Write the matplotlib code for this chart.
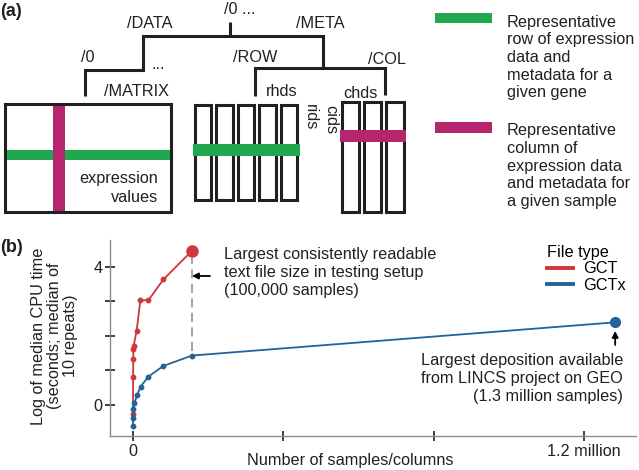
import matplotlib

matplotlib.use("Agg")
from matplotlib import pyplot as plt
from matplotlib.lines import Line2D
from matplotlib.patches import Rectangle

plt.rcParams["font.family"] = ["Liberation Sans", "DejaVu Sans"]
plt.rcParams["font.size"] = 11.7

TEXT = "#231f20"
GREEN = "#21a84f"
MAGENTA = "#b5266e"
RED = "#d0363b"
BLUE = "#22639b"
AXIS_GRAY = "#8a8a8a"

# panel (b) data
samples_gct = [0, 300, 800, 1000, 1500, 9800, 19500, 41000, 81000, 157000]
log_time_gct = [-0.27, 0.80, 1.32, 1.61, 1.70, 2.15, 3.03, 3.03, 3.63, 4.46]
samples_gctx = [0, 300, 1300, 3700, 11000, 20000, 41000, 81000, 157000, 1283000]
log_time_gctx = [-0.61, -0.39, -0.12, 0.05, 0.29, 0.53, 0.82, 1.13, 1.43, 2.39]
file_types = ["GCT", "GCTx"]
x_ticks = [0, 400000, 800000, 1200000]
x_tick_labels = ["0", "", "", "1.2 million"]
y_ticks = [0, 1, 2, 3, 4]
y_tick_labels = ["0", "", "", "", "4"]

fig = plt.figure(figsize=(6.39, 4.70), dpi=100)

# ---- panel (a): HDF5 layout diagram, drawn in pixel units ----
ax_a = fig.add_axes([0, 1 - 220 / 470, 1, 220 / 470])
ax_a.set_xlim(0, 639)
ax_a.set_ylim(220, 0)
ax_a.axis("off")


def tree_line(points):
    xs, ys = zip(*points)
    ax_a.plot(xs, ys, color=TEXT, lw=2.2, solid_joinstyle="miter",
              solid_capstyle="butt", zorder=3)


def box(x0, y0, x1, y1):
    ax_a.add_patch(Rectangle((x0 + 1.5, y0 + 1.5), x1 - x0 - 3, y1 - y0 - 3,
                             fill=False, ec=TEXT, lw=2.2, joinstyle="miter",
                             zorder=3))


def bar(x0, y0, x1, y1, color, z=2):
    ax_a.add_patch(Rectangle((x0, y0), x1 - x0, y1 - y0, fc=color,
                             ec="none", zorder=z))


tree_line([(85, 96), (85, 70), (143, 70), (143, 36), (323, 36), (323, 68),
           (385, 68), (385, 95)])
tree_line([(230, 22), (230, 36)])
tree_line([(255, 96), (255, 68), (323, 68)])

for label, x, y in [("/0 ...", 240, 10), ("/DATA", 150, 23), ("/META", 320, 23),
                    ("/0", 88, 57), ("/ROW", 255, 57), ("/COL", 387, 59),
                    ("/MATRIX", 137, 92), ("rhds", 282, 92), ("chds", 360, 94)]:
    ax_a.text(x, y, label, ha="center", va="center", color=TEXT)
ax_a.text(158, 69, "...", ha="center", va="baseline", color=TEXT)
ax_a.text(310, 117, "rids", rotation=270, ha="center", va="center", color=TEXT)
ax_a.text(331, 120, "cids", rotation=270, ha="center", va="center", color=TEXT)

# matrix
box(3, 102, 172, 213)
bar(5, 150, 170, 160, GREEN)
bar(53, 104, 65, 211, MAGENTA, z=2.5)
ax_a.text(158, 188, "expression\nvalues", ha="right", va="center",
          multialignment="right", linespacing=1.25, color=TEXT)

# row metadata
for i in range(5):
    x0 = 193 + i * 21.6
    box(x0, 103, x0 + 19.5, 201)
bar(193, 144, 300, 156, GREEN, z=4)

# column metadata
for i in range(3):
    x0 = 340 + i * 22.3
    box(x0, 100, x0 + 20.5, 213)
bar(340, 130, 406, 142, MAGENTA, z=4)

# key
bar(435, 13, 492, 23, GREEN)
bar(435, 122, 492, 133, MAGENTA)
ax_a.text(507, 57.5, "Representative\nrow of expression\ndata and\nmetadata for a\ngiven gene",
          ha="left", va="center", linespacing=1.22, color=TEXT)
ax_a.text(507, 166, "Representative\ncolumn of\nexpression data\nand metadata for\na given sample",
          ha="left", va="center", linespacing=1.22, color=TEXT)

fig.text(0, 1 - 11 / 470, "(a)", fontsize=13, fontweight="bold", ha="left",
         va="center", color=TEXT)
fig.text(0, 1 - 248 / 470, "(b)", fontsize=13, fontweight="bold", ha="left",
         va="center", color=TEXT)

# ---- panel (b): CPU time vs number of samples ----
ax = fig.add_axes([110 / 639, 1 - 436 / 470, 526 / 639, 196 / 470])

ax.plot(samples_gct, log_time_gct, color=RED, lw=1.3, marker="o", ms=3.2, zorder=3)
ax.plot(samples_gct[-1:], log_time_gct[-1:], "o", color=RED, ms=8, zorder=4)
ax.plot(samples_gctx, log_time_gctx, color=BLUE, lw=1.3, marker="o", ms=3.2, zorder=3)
ax.plot(samples_gctx[-1:], log_time_gctx[-1:], "o", color=BLUE, ms=7, zorder=4)

ax.plot([samples_gct[-1]] * 2, [log_time_gctx[-2] + 0.12, log_time_gct[-1] - 0.22],
        color=AXIS_GRAY, lw=1.1, ls=(0, (6, 3.5)), zorder=2)

ax.set_xlim(-61200, 1338400)
ax.set_ylim(-0.896, 4.77)
ax.set_xticks(x_ticks, x_tick_labels)
ax.set_yticks(y_ticks, y_tick_labels)
for side in ("top", "right"):
    ax.spines[side].set_visible(False)
for side in ("left", "bottom"):
    ax.spines[side].set_color(AXIS_GRAY)
    ax.spines[side].set_linewidth(1.0)
ax.tick_params(direction="inout", length=7, width=1.3, color="#333333",
               labelcolor=TEXT, labelsize=11.7)
ax.tick_params(axis="y", pad=2)
ax.tick_params(axis="x", pad=2.5)

ax.set_xlabel("Number of samples/columns", color=TEXT)
ax.xaxis.set_label_coords(0.456, -0.085)
ax.set_ylabel("Log of median CPU time\n(seconds; median of\n10 repeats)",
              color=TEXT, linespacing=1.1)
ax.yaxis.set_label_coords(-0.105, 0.51)
ax.yaxis.label.set_verticalalignment("center")

ax.annotate("", xy=(samples_gct[-1], 3.73), xytext=(18, 0), textcoords="offset pixels",
            arrowprops=dict(arrowstyle="-|>", color="black", lw=1.3,
                            mutation_scale=9, shrinkA=0, shrinkB=0))
ax.text(242000, 3.83, "Largest consistently readable\ntext file size in testing setup\n(100,000 samples)",
        ha="left", va="center", linespacing=1.25, color=TEXT)

ax.annotate("", xy=(samples_gctx[-1], 2.14), xytext=(0, -14), textcoords="offset pixels",
            arrowprops=dict(arrowstyle="-|>", color="black", lw=1.3,
                            mutation_scale=9, shrinkA=0, shrinkB=0))
ax.text(1303800, 0.76, "Largest deposition available\nfrom LINCS project on GEO\n(1.3 million samples)",
        ha="right", va="center", multialignment="right", linespacing=1.25, color=TEXT)

handles = [Line2D([], [], color=c, lw=2.8) for c in (RED, BLUE)]
ax.legend(handles, file_types, title="File type", loc="upper left",
          bbox_to_anchor=(0.831, 0.975), frameon=False, handlelength=1.6,
          handletextpad=0.6, labelspacing=0.08, borderpad=0, borderaxespad=0,
          alignment="left", fontsize=11.7, title_fontsize=11.7)

fig.savefig("out.png", dpi=100)
